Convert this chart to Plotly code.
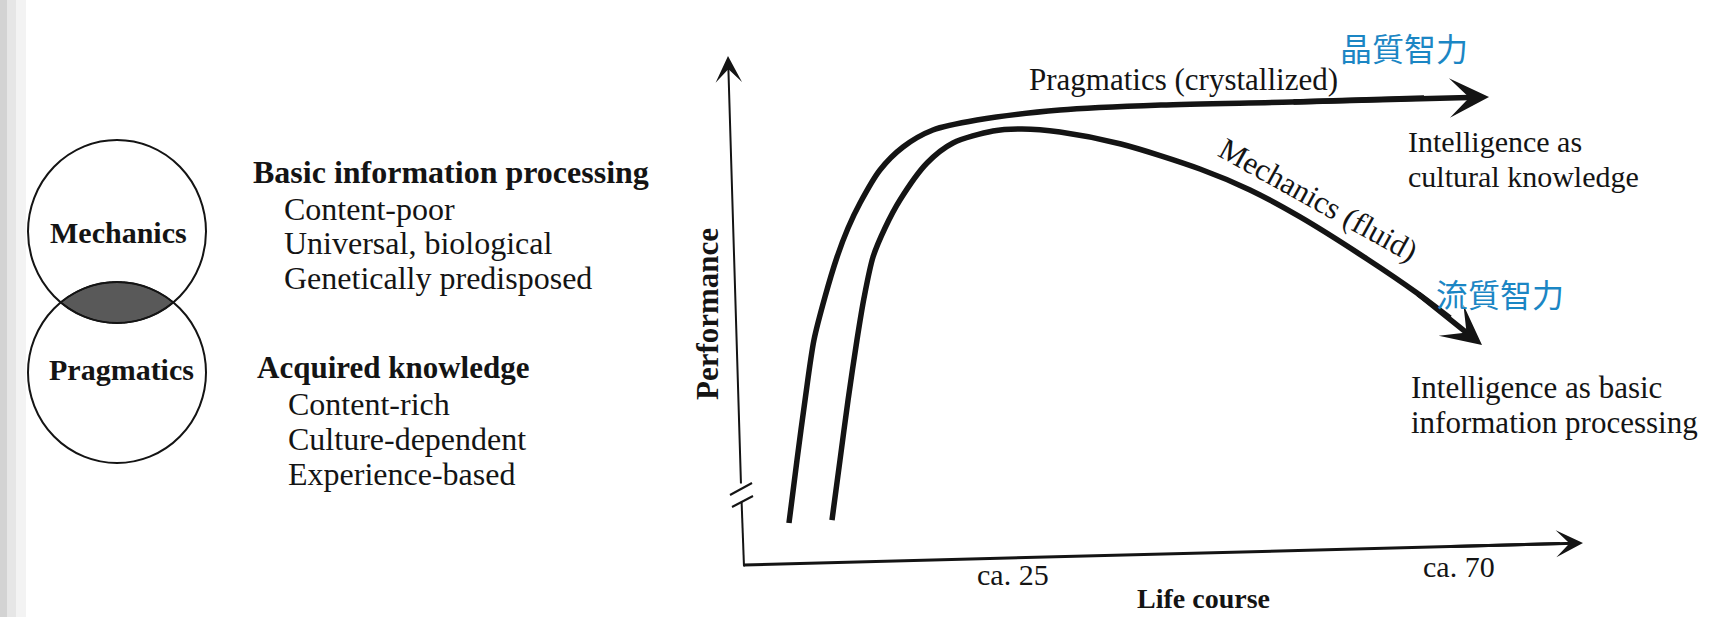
import numpy as np
import plotly.graph_objects as go

W, H = 1727, 617

# ---------------- data ----------------
# life course in years, performance in arbitrary units (0 = axis)
pragmatics_age = [2.42, 3.23, 4.04, 4.94, 6.05, 7.27, 8.38, 9.59, 11.60, 13.93,
                  16.95, 21.39, 29.77, 39.96, 53.18, 66.50, 73.06]
pragmatics_perf = [8.24, 20.59, 32.35, 44.12, 52.55, 60.39, 66.08, 70.98, 77.45, 81.96,
                   85.29, 87.25, 89.22, 90.20, 90.78, 91.57, 91.76]

mechanics_age = [6.76, 7.57, 8.38, 9.28, 9.99, 10.90, 12.11, 13.62, 16.35, 18.97,
                 23.01, 25.93, 29.77, 35.92, 43.89, 48.94, 53.99, 60.75, 65.79, 69.12, 72.35]
mechanics_perf = [8.82, 20.59, 32.35, 44.12, 52.35, 60.39, 66.08, 71.57, 78.82, 82.75,
                  85.10, 85.49, 84.90, 82.55, 77.65, 73.53, 68.24, 60.00, 53.33, 48.43, 43.14]

age_ticks = [25, 70]
age_tick_labels = ["ca. 25", "ca. 70"]

venn_labels = ["Mechanics", "Pragmatics"]
mech_heading = "Basic information processing"
mech_items = ["Content-poor", "Universal, biological", "Genetically predisposed"]
prag_heading = "Acquired knowledge"
prag_items = ["Content-rich", "Culture-dependent", "Experience-based"]

# ---------------- layout helpers ----------------
INK = "#141414"
BLUE = "#1b86c4"
SERIF = "Liberation Serif, Times New Roman, serif"
CJK = "Noto Sans CJK TC, Noto Sans CJK SC, sans-serif"

# pixel calibration of the data axes (figure has zero margins)
AGE0_PX, PX_PER_YEAR = 765.0, 9.91
PERF0_PY, PX_PER_PERF = 565.0, 5.1


def age_at(px):
    return (px - AGE0_PX) / PX_PER_YEAR


def perf_at(py):
    return (PERF0_PY - py) / PX_PER_PERF


def X(px):
    return px / W


def Y(py):
    return 1 - py / H


def txt(s, px, py, size=31, bold=False, anchor="left", color=INK, angle=0, family=SERIF, yanchor="middle"):
    return dict(text=f"<b>{s}</b>" if bold else s, x=X(px), y=Y(py), xref="paper", yref="paper",
                xanchor=anchor, yanchor=yanchor, showarrow=False, textangle=angle,
                font=dict(family=family, size=size, color=color))


def arrow(hx, hy, tx, ty, width, size, head=3):
    return dict(x=hx, y=hy, ax=tx, ay=ty, xref="x", yref="y", axref="x", ayref="y",
                text="", showarrow=True, arrowhead=head, arrowsize=size, arrowwidth=width,
                arrowcolor=INK, standoff=0, startstandoff=0)


fig = go.Figure()

# curves (last point is the arrow tip, drawn by an annotation that overlaps the last segment)
fig.add_trace(go.Scatter(x=pragmatics_age[:-1], y=pragmatics_perf[:-1], mode="lines",
                         line=dict(color=INK, width=5.5, shape="spline", smoothing=0.8),
                         hoverinfo="skip", showlegend=False))
fig.add_trace(go.Scatter(x=mechanics_age[:-1], y=mechanics_perf[:-1], mode="lines",
                         line=dict(color=INK, width=5.5, shape="spline", smoothing=0.8),
                         hoverinfo="skip", showlegend=False))

ann = []
ann.append(arrow(pragmatics_age[-1], pragmatics_perf[-1], pragmatics_age[-3], pragmatics_perf[-3], 5.5, 1.2))
ann.append(arrow(mechanics_age[-1], mechanics_perf[-1], mechanics_age[-3], mechanics_perf[-3], 5.5, 1.2))

shapes = []
# axes (hand-drawn, slightly tilted as in the scan)
ann.append(arrow(age_at(728), perf_at(56), age_at(741), perf_at(485), 2, 2.2))
shapes.append(dict(type="line", xref="paper", yref="paper", x0=X(744), y0=Y(565), x1=X(1560), y1=Y(543.6),
                   line=dict(color=INK, width=3)))
ann.append(arrow(age_at(1583), perf_at(543), age_at(1450), perf_at(546.5), 3, 1.5))

# lower part of y axis (below the break)
shapes.append(dict(type="line", xref="paper", yref="paper", x0=X(741.6), y0=Y(502), x1=X(744), y1=Y(566.5),
                   line=dict(color=INK, width=2)))
# break marks
shapes.append(dict(type="line", xref="paper", yref="paper", x0=X(730), y0=Y(495), x1=X(752), y1=Y(483),
                   line=dict(color=INK, width=2)))
shapes.append(dict(type="line", xref="paper", yref="paper", x0=X(732), y0=Y(507), x1=X(753), y1=Y(496),
                   line=dict(color=INK, width=2)))

# scan edge on the left
shapes.append(dict(type="rect", xref="paper", yref="paper", x0=0, x1=X(7), y0=0, y1=1,
                   fillcolor="#d3d3d3", line=dict(width=0), layer="below"))
shapes.append(dict(type="rect", xref="paper", yref="paper", x0=X(7), x1=X(16), y0=0, y1=1,
                   fillcolor="#e6e6e6", line=dict(width=0), layer="below"))
shapes.append(dict(type="rect", xref="paper", yref="paper", x0=X(16), x1=X(26), y0=0, y1=1,
                   fillcolor="#f3f3f3", line=dict(width=0), layer="below"))

# Venn diagram
TOP = (117.0, 231.5, 89.0, 91.5)   # cx, cy, rx, ry in pixels
BOT = (117.0, 372.5, 89.0, 90.5)


def half(cx, cy, rx, ry, xs, sign):
    t = np.clip(1 - ((xs - cx) / rx) ** 2, 0, None)
    return cy + sign * ry * np.sqrt(t)


xs = np.linspace(28, 206, 900)
top_lower = half(*TOP, xs, +1)
bot_upper = half(*BOT, xs, -1)
m = bot_upper < top_lower
lx = xs[m]
pts = list(zip(lx, bot_upper[m])) + list(zip(lx[::-1], top_lower[m][::-1]))
path = "M " + " L ".join(f"{X(a):.5f},{Y(b):.5f}" for a, b in pts) + " Z"
shapes.append(dict(type="path", xref="paper", yref="paper", path=path,
                   fillcolor="#595959", line=dict(color=INK, width=1.5)))

for (cx, cy, rx, ry) in (TOP, BOT):
    shapes.append(dict(type="circle", xref="paper", yref="paper",
                       x0=X(cx - rx), x1=X(cx + rx), y0=Y(cy + ry), y1=Y(cy - ry),
                       line=dict(color=INK, width=2)))

ann.append(txt(venn_labels[0], 118, 232, size=30, bold=True, anchor="center"))
ann.append(txt(venn_labels[1], 121, 369, size=30, bold=True, anchor="center"))

# left description lists
ann.append(txt(mech_heading, 251, 172, size=32, bold=True))
for i, s in enumerate(mech_items):
    ann.append(txt(s, 282, 209 + i * 34.5, size=32))
ann.append(txt(prag_heading, 255, 367, size=31, bold=True))
for i, s in enumerate(prag_items):
    ann.append(txt(s, 286, 404 + i * 35, size=32))

# right chart labels
ann.append(txt("Pragmatics (crystallized)", 1183, 79, size=31, anchor="center"))
ann.append(txt("晶質智力", 1404, 47, size=32, anchor="center", color=BLUE, family=CJK))
ann.append(txt("Intelligence as", 1406, 142, size=30))
ann.append(txt("cultural knowledge", 1406, 177, size=30))
ann.append(txt("Mechanics (fluid)", 1318, 199, size=31, anchor="center", angle=29))
ann.append(txt("流質智力", 1500, 293, size=32, anchor="center", color=BLUE, family=CJK))
ann.append(txt("Intelligence as basic", 1409, 387, size=31))
ann.append(txt("information processing", 1409, 422, size=31))
ann.append(txt("Performance", 707, 314, size=31, bold=True, anchor="center", angle=-90))
ann.append(txt("Life course", 1203, 616, size=28, bold=True, anchor="center", yanchor="bottom"))

# tick labels placed through the age scale
tick_py = [574, 566]
for a, lab, py in zip(age_ticks, age_tick_labels, tick_py):
    ann.append(dict(text=lab, x=a, y=Y(py), xref="x", yref="paper", xanchor="center",
                    yanchor="middle", showarrow=False, font=dict(family=SERIF, size=30, color=INK)))

fig.update_layout(
    width=W, height=H, autosize=False,
    margin=dict(l=0, r=0, t=0, b=0, pad=0),
    paper_bgcolor="white", plot_bgcolor="white",
    xaxis=dict(range=[age_at(0), age_at(W)], visible=False, fixedrange=True),
    yaxis=dict(range=[perf_at(H), perf_at(0)], visible=False, fixedrange=True),
    shapes=shapes, annotations=ann, showlegend=False, hovermode=False,
)

fig.write_html("out.html", include_plotlyjs=True, full_html=True,
               config={"displayModeBar": False, "staticPlot": True},
               post_script="document.body.style.margin='0';document.body.style.overflow='hidden';")
